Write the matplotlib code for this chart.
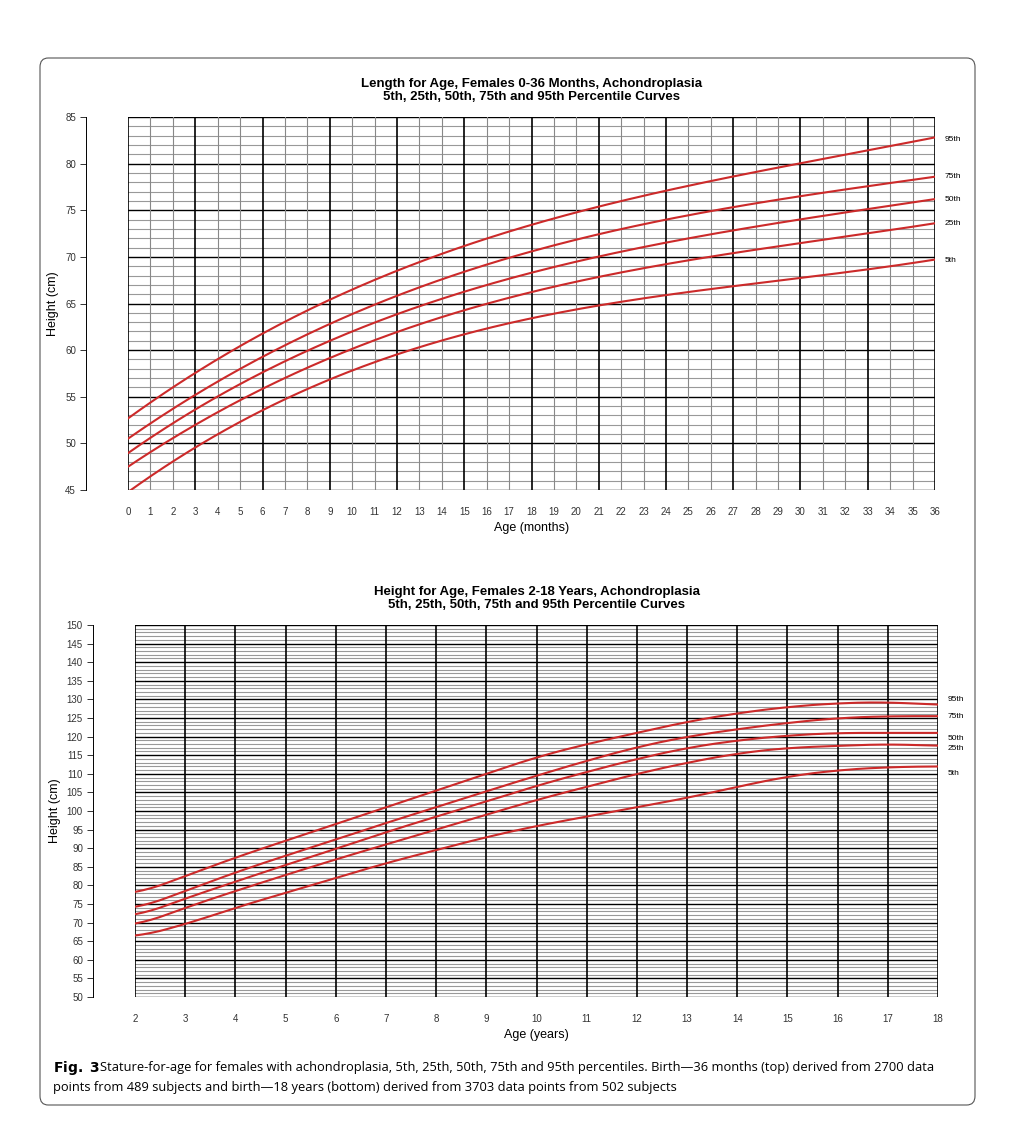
import numpy as np
import matplotlib.pyplot as plt
from matplotlib.patches import FancyBboxPatch

plt.rcParams['font.family'] = ['Liberation Sans', 'DejaVu Sans']

# top chart: months
months = [0, 3, 6, 12, 18, 24, 30, 36]
top_p95 = [52.7, 57.5, 61.8, 68.5, 73.5, 77.0, 80.1, 82.8]
top_p75 = [50.5, 55.2, 59.3, 65.8, 70.6, 74.0, 76.5, 78.6]
top_p50 = [49.0, 53.5, 57.7, 63.9, 68.2, 71.6, 74.0, 76.2]
top_p25 = [47.5, 52.0, 55.8, 62.0, 66.2, 69.2, 71.5, 73.6]
top_p5 = [44.8, 49.5, 53.6, 59.5, 63.5, 65.8, 67.8, 69.7]
top_label_y = [82.6, 78.6, 76.1, 73.6, 69.6]

# bottom chart: years
years = list(range(2, 19))
bot_p95 = [77.5, 82.5, 87.5, 92, 96.5, 101, 105.5, 110, 114.5, 118, 121, 124, 126.3, 128, 129, 129.3, 128.5]
bot_p75 = [73.5, 78.5, 83.5, 88, 92.3, 96.8, 101, 105.3, 109.5, 113.5, 117.2, 120, 122, 123.7, 125, 125.5, 125.5]
bot_p50 = [71.5, 76.5, 81, 85.5, 89.8, 94.3, 98.5, 102.5, 106.8, 110.5, 114, 117, 119, 120.3, 121, 121, 121]
bot_p25 = [69, 74, 78.5, 82.8, 87, 91, 95, 99, 103, 106.5, 110, 113, 115.5, 117, 117.5, 118, 117.5]
bot_p5 = [66, 69.5, 74, 78, 82, 86, 89.5, 93, 96, 98.5, 101, 103.5, 106.5, 109.3, 111, 111.8, 112]
bot_label_y = [130.1, 125.5, 119.6, 116.7, 110.2]

labels = ['95th', '75th', '50th', '25th', '5th']
red = '#cc2a2a'


def smooth(x, y):
    xs = np.linspace(x[0], x[-1], 200)
    # monotone-ish smoothing via quadratic local fit of piecewise linear
    c = np.polyfit(x, y, min(4, len(x) - 1)) if len(x) < 10 else None
    if c is not None:
        return xs, np.polyval(c, xs)
    from numpy import interp
    ys = interp(xs, x, y)
    k = np.ones(15) / 15
    pad = np.pad(ys, 7, mode='edge')
    return xs, np.convolve(pad, k, mode='valid')


def chart(ax, x, series, xlim, ylim, xminor, xmajor, ymajor, lab_y, title, xlabel, yticks):
    for v in np.arange(ylim[0], ylim[1] + 1, 1):
        major = (v % ymajor == 0)
        ax.axhline(v, color='black' if major else '#999999', lw=1.0 if major else 0.8, zorder=1)
    for v in np.arange(xlim[0], xlim[1] + 0.01, xminor):
        major = (v % xmajor == 0)
        ax.axvline(v, color='black' if major else '#888888', lw=1.2 if major else 0.8, zorder=1)
    for s in series:
        xs, ys = smooth(x, s)
        ax.plot(xs, ys, color=red, lw=1.5, zorder=3)
    for l, yy in zip(labels, lab_y):
        ax.text(xlim[1] + (xlim[1] - xlim[0]) * 0.012, yy, l, fontsize=6, va='center', ha='left')
    ax.set_xlim(xlim)
    ax.set_ylim(ylim)
    for sp in ['top', 'right', 'bottom']:
        ax.spines[sp].set_visible(False)
    ax.spines['left'].set_position(('outward', 30))
    ax.spines['left'].set_linewidth(0.7)
    ax.set_yticks(yticks)
    ax.set_xticks(np.arange(xlim[0], xlim[1] + 1, 1))
    ax.tick_params(labelsize=7, length=4, width=0.7, colors='#333333')
    ax.tick_params(axis='x', length=0, pad=12)
    ax.set_title(title, fontsize=9.5, fontweight='bold', pad=12)
    ax.set_xlabel(xlabel, fontsize=9)
    ax.set_ylabel('Height (cm)', fontsize=9)


fig = plt.figure(figsize=(10.26, 11.28), dpi=100)
fig.patches.append(FancyBboxPatch((40 / 1026, 23 / 1128), 935 / 1026, 1047 / 1128,
                                  boxstyle='round,pad=0,rounding_size=0.008',
                                  transform=fig.transFigure, fill=False, ec='#555555', lw=0.8))

ax1 = fig.add_axes([128 / 1026, 1 - 490 / 1128, 807 / 1026, 373 / 1128])
chart(ax1, months, [top_p95, top_p75, top_p50, top_p25, top_p5], (0, 36), (45, 85), 1, 3, 5,
      top_label_y, 'Length for Age, Females 0-36 Months, Achondroplasia\n5th, 25th, 50th, 75th and 95th Percentile Curves',
      'Age (months)', np.arange(45, 86, 5))

ax2 = fig.add_axes([135 / 1026, 1 - 997 / 1128, 803 / 1026, 372 / 1128])
chart(ax2, years, [bot_p95, bot_p75, bot_p50, bot_p25, bot_p5], (2, 18), (50, 150), 1, 1, 5,
      bot_label_y, 'Height for Age, Females 2-18 Years, Achondroplasia\n5th, 25th, 50th, 75th and 95th Percentile Curves',
      'Age (years)', np.arange(50, 151, 5))

fig.text(53 / 1026, 1 - 1068 / 1128, r'$\bf{Fig.\ 3}$', fontsize=10, va='center')
fig.text(100 / 1026, 1 - 1068 / 1128,
         'Stature-for-age for females with achondroplasia, 5th, 25th, 50th, 75th and 95th percentiles. Birth\u201436 months (top) derived from 2700 data',
         fontsize=9.3, va='center', family='Open Sans')
fig.text(53 / 1026, 1 - 1088 / 1128,
         'points from 489 subjects and birth\u201418 years (bottom) derived from 3703 data points from 502 subjects',
         fontsize=9.3, va='center', family='Open Sans')

fig.savefig('out.png', dpi=100, facecolor='white')
